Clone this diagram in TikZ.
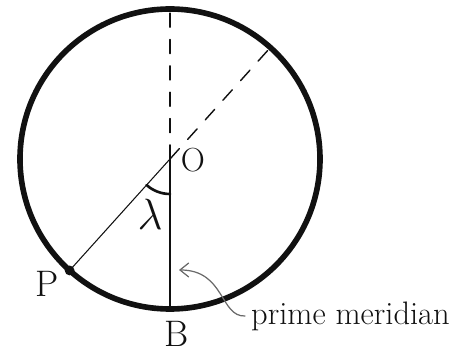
\documentclass[tikz,border=0pt]{standalone}
\usepackage{amsmath, amssymb}
\usepackage{xcolor}
\usepackage{tikz}
\usetikzlibrary{positioning, calc, arrows.meta}
\definecolor{inkBlack}{HTML}{111111}
\definecolor{pencilGray}{HTML}{6A6A6A}

\begin{document}
\begin{tikzpicture}[font=\fontsize{21}{24}\selectfont, line cap=round]
  \useasboundingbox (0,0) rectangle (9.26,7.04);
  \def\R{3.0}
  \coordinate (O) at (3.40,3.86);
  \coordinate (T) at ($(O)+(90:\R)$);
  \coordinate (B) at ($(O)+(270:\R)$);
  \coordinate (P) at ($(O)+(228:\R)$);
  \coordinate (Q) at ($(O)+(48:\R)$);
  % the circle
  \draw[inkBlack, line width=3.2pt] (O) circle (\R);
  % meridian lines
  \draw[inkBlack, line width=0.8pt, dash pattern=on 8pt off 7pt] (O) -- (T);
  \draw[inkBlack, line width=0.8pt, dash pattern=on 8pt off 7pt] (O) -- (Q);
  \draw[inkBlack, line width=1.0pt] (O) -- (B);
  \draw[inkBlack, line width=0.6pt] (O) -- (P);
  \fill[inkBlack] (P) circle (2.8pt);
  % angle lambda
  \draw[inkBlack, line width=1.5pt] ($(O)+(228:0.7)$) arc (228:270:0.7);
  \node[inkBlack, font=\fontsize{25}{28}\selectfont] (lam) at (3.00,2.76) {$\lambda$};
  \node[inkBlack, font=\fontsize{19}{22}\selectfont] (lO) at (3.86,3.84) {O};
  \node[inkBlack] (lP) at (0.94,1.36) {P};
  \node[inkBlack] (lB) at (3.54,0.36) {B};
  % pointer to prime meridian
  \node[anchor=west, inkBlack, font=\fontsize{18.5}{21}\selectfont] (mer) at (4.90,0.72) {prime meridian};
  \coordinate (tip) at (3.58,1.64);
  \draw[pencilGray, line width=0.7pt, -{Straight Barb[length=5pt,width=8pt]}]
     (mer.west) .. controls (4.40,0.70) and (4.50,1.64) .. (tip);
\end{tikzpicture}
\end{document}
